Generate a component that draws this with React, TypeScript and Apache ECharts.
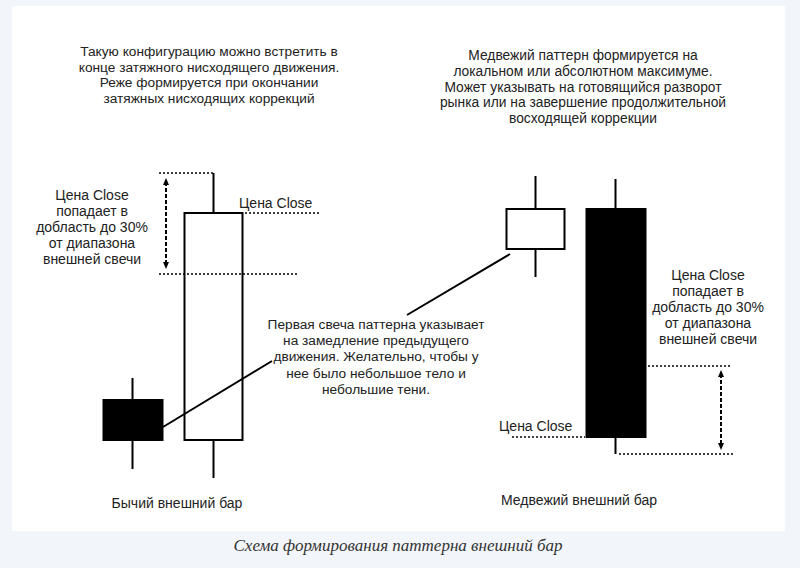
import React, { useEffect, useRef } from "react";
import * as echarts from "echarts";

// Candle slots (hidden category axis)
const slots = ["bull1", "bull2", "gap1", "gap2", "gap3", "bear1", "bear2"];
// [open, close, low, high] on a schematic price scale
const candles: (number[] | string)[] = [
  [80, 40, 11, 102],
  [40, 267, 2, 307],
  "-",
  "-",
  "-",
  [231, 271, 203, 304],
  [271, 43, 26, 301],
];
// 30% zone levels
const bullZoneLevel = 206;
const bearZoneLevel = 114;

const textLeftTop =
  "Такую конфигурацию можно встретить в\nконце затяжного нисходящего движения.\nРеже формируется при окончании\nзатяжных нисходящих коррекций";
const textRightTop =
  "Медвежий паттерн формируется на\nлокальном или абсолютном максимуме.\nМожет указывать на готовящийся разворот\nрынка или на завершение продолжительной\nвосходящей коррекции";
const textMiddle =
  "Первая свеча паттерна указывает\nна замедление предыдущего\nдвижения. Желательно, чтобы у\nнее было небольшое тело и\nнебольшие тени.";
const textZone = "Цена Close\nпопадает в\nдобласть до 30%\nот диапазона\nвнешней свечи";
const closeLabel = "Цена Close";
const bullTitle = "Бычий внешний бар";
const bearTitle = "Медвежий внешний бар";
const caption = "Схема формирования паттерна внешний бар";

const FONT = "'Liberation Sans', Arial, sans-serif";

export default function App() {
  const ref = useRef<HTMLDivElement>(null);
  useEffect(() => {
    if (!ref.current) return;
    const chart = echarts.init(ref.current, null, { renderer: "svg" });
    chart.setOption({
      animation: false,
      backgroundColor: "#f2f5f9",
      grid: { left: 92.75, width: 563.5, top: 150, height: 330 },
      xAxis: { type: "category", data: slots, show: false },
      yAxis: { type: "value", min: 0, max: 330, show: false, splitLine: { show: false } },
      series: [
        {
          type: "candlestick",
          data: candles,
          barWidth: 59,
          z: 5,
          itemStyle: {
            color: "#ffffff",
            color0: "#000000",
            borderColor: "#000000",
            borderColor0: "#000000",
            borderWidth: 2,
          },
        },
      ],
    });

    const py = (v: number) => (chart.convertToPixel({ gridIndex: 0 }, [0, v]) as number[])[1];
    const c2 = candles[1] as number[];
    const c4 = candles[6] as number[];

    const dotted = { stroke: "#000", lineWidth: 1.6, lineDash: [2, 2] };
    const solid = { stroke: "#000", lineWidth: 2 };
    const dl = (x1: number, y1: number, x2: number, y2: number) => ({
      type: "line",
      z: 20,
      shape: { x1, y1, x2, y2 },
      style: dotted,
    });
    const arrow = (x: number, yTop: number, yBot: number) => [
      {
        type: "line",
        z: 20,
        shape: { x1: x, y1: yTop + 4, x2: x, y2: yBot - 4 },
        style: { stroke: "#000", lineWidth: 2, lineDash: [4, 2] },
      },
      {
        type: "polygon",
        z: 20,
        shape: { points: [[x, yTop], [x - 3, yTop + 7], [x + 3, yTop + 7]] },
        style: { fill: "#000" },
      },
      {
        type: "polygon",
        z: 20,
        shape: { points: [[x, yBot], [x - 3, yBot - 7], [x + 3, yBot - 7]] },
        style: { fill: "#000" },
      },
    ];
    const txt = (
      text: string,
      x: number,
      y: number,
      align: string,
      size: number,
      lh: number,
      extra: any = {}
    ) => ({
      type: "text",
      z: 20,
      x,
      y,
      style: {
        text,
        textAlign: align,
        textVerticalAlign: "top",
        font: `${size}px ${FONT}`,
        lineHeight: lh,
        fill: "#222",
        ...extra,
      },
    });

    const yHigh = py(c2[3]);
    const yClose = py(c2[1]);
    const yZone = py(bullZoneLevel);
    const yRZone = py(bearZoneLevel);
    const yLow4 = py(c4[2]);
    const yClose4 = py(c4[1]);

    chart.setOption({
      graphic: [
        {
          type: "rect",
          z: -10,
          zlevel: 0,
          shape: { x: 12, y: 6, width: 773, height: 525 },
          style: { fill: "#ffffff" },
        },
        txt(textLeftTop, 209, 44, "center", 13.7, 15.5),
        txt(textRightTop, 583, 48, "center", 13.8, 15.7),
        txt(textZone, 92, 187, "center", 14, 16),
        txt(textZone, 708, 267, "center", 14, 16),
        txt(textMiddle, 376, 316, "center", 13.7, 16.3),
        txt(closeLabel, 239, 195, "left", 14, 16),
        txt(closeLabel, 499, 418, "left", 14, 16),
        txt(bullTitle, 177, 495, "center", 14, 16),
        txt(bearTitle, 579, 492, "center", 14, 16),
        txt(caption, 398, 536, "center", 17, 19, {
          font: `italic 17px 'Liberation Serif', 'DejaVu Serif', serif`,
          fill: "#333",
        }),
        dl(159, yHigh, 213, yHigh),
        dl(245, yClose, 319, yClose),
        dl(159, yZone, 298, yZone),
        dl(648, yRZone, 730, yRZone),
        dl(619, yLow4, 735, yLow4),
        dl(512, yClose4, 585, yClose4),
        ...arrow(166, yHigh + 5, yZone - 5),
        ...arrow(721, yRZone + 4, yLow4 - 4),
        { type: "line", z: 20, shape: { x1: 163, y1: 427, x2: 272, y2: 361 }, style: solid },
        { type: "line", z: 20, shape: { x1: 407, y1: 315, x2: 510, y2: 254 }, style: solid },
      ],
    });
    return () => chart.dispose();
  }, []);
  return (
    <div
      ref={ref}
      style={{ position: "fixed", left: 0, top: 0, width: 800, height: 568 }}
    />
  );
}
